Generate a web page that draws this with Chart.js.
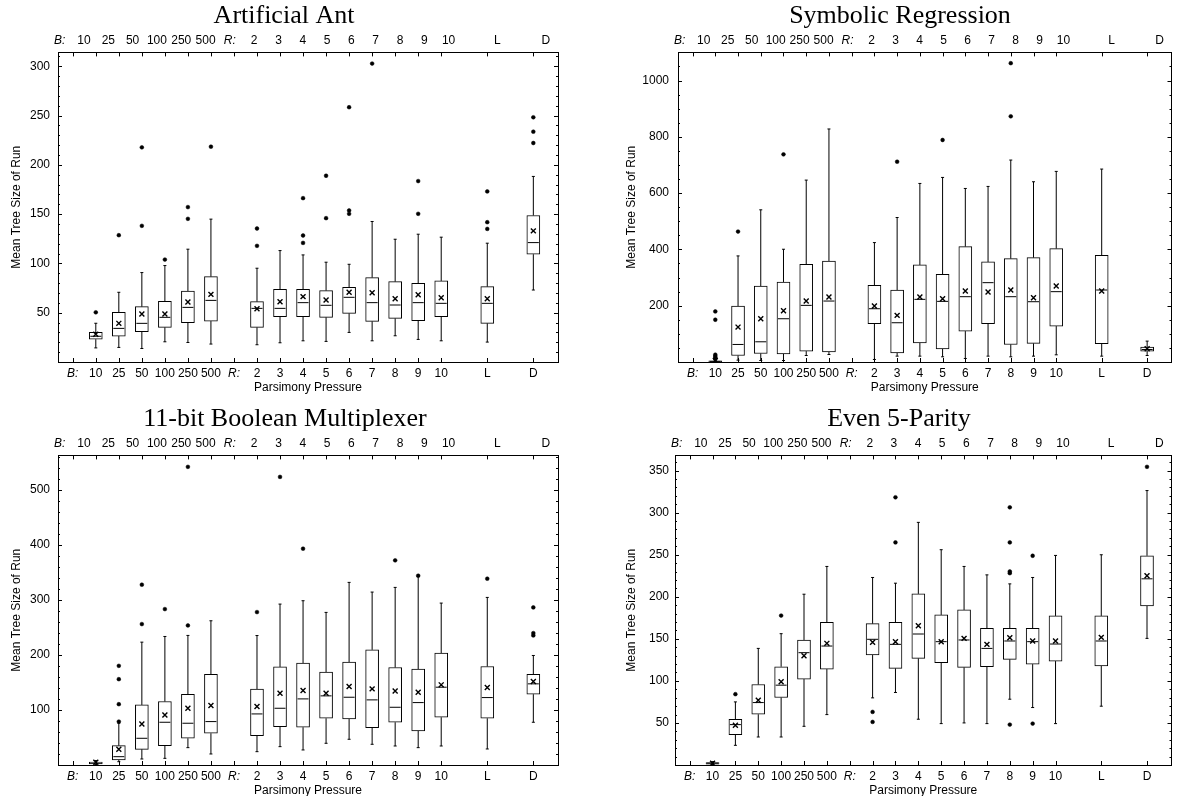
<!DOCTYPE html>
<html>
<head>
<meta charset="utf-8">
<script src="https://cdn.jsdelivr.net/npm/chart.js@4"></script>
<style>
html,body{margin:0;padding:0;background:#fff;width:1178px;height:796px;overflow:hidden;position:relative}
canvas{position:absolute}
</style>
</head>
<body>
<canvas id="c1" width="568" height="398" style="left:0px;top:0px"></canvas>
<canvas id="c2" width="556" height="398" style="left:622px;top:0px"></canvas>
<canvas id="c3" width="570" height="398" style="left:0px;top:403px"></canvas>
<canvas id="c4" width="558" height="398" style="left:620px;top:403px"></canvas>
<script>
// ---- axis slots / categories ----
const SLOTS = ['B:','10','25','50','100','250','500','R:','2','3','4','5','6','7','8','9','10','','L','','D'];
const CATEGORIES = ['10','25','50','100','250','500','2','3','4','5','6','7','8','9','10','L','D'];
const X_TITLE = 'Parsimony Pressure';
const Y_TITLE = 'Mean Tree Size of Run';

// ---- Artificial Ant ----
const antLow  = [14.3, 14.8, 13.7, 20.5, 19.8, 18.2, 17.5, 19.5, 21.5, 20.9, 30, 21.5, 26.6, 22.9, 21.5, 20.2, 73];
const antQ1   = [23.1, 26.3, 30.7, 35.1, 39.8, 41.5, 35.1, 45.9, 45.9, 45.3, 49.3, 41.2, 44.2, 41.9, 45.9, 39.2, 109.3];
const antMed  = [26.1, 34.1, 39.2, 45.3, 55.4, 62.5, 54.4, 54.4, 60.2, 57.5, 65.6, 60.2, 57.8, 60.2, 59.5, 59.5, 121.1];
const antQ3   = [30.2, 50.3, 56.1, 61.5, 72, 86.6, 61.2, 73.7, 73.7, 72.4, 75.7, 85.6, 81.5, 79.8, 82.2, 76.4, 148.6];
const antHigh = [39.3, 70.7, 90.7, 97.8, 114.4, 144.9, 95.1, 113, 108.6, 101.2, 99.1, 142.5, 124.5, 129.6, 126.6, 120.5, 188.2];
const antMean = [28.2, 39.2, 48.6, 48.6, 60.8, 68.6, 54.1, 61.2, 66.3, 62.9, 70.7, 70.3, 64.2, 68.3, 65.2, 64.2, 133];
const antOut  = [[50.4],[128.6],[138.1,217.7],[103.9],[145.2,157.1],[218.4],[117.8,135.4],[],[120.8,128.3,166.2],[145.9,188.9],[150.3,153.7,258.4],[302.7],[],[150.3,183.5],[],[135,141.8,173],[222.1,233.6,248.2]];
const antYTicks = [50,100,150,200,250,300];

// ---- Symbolic Regression ----
const srLow  = [0, 6.5, 5.3, 5.3, 23.1, 26.7, 8.9, 20.8, 20.8, 18.4, 12.5, 20.8, 18.4, 20.8, 25.5, 20.8, 23.1];
const srQ1   = [0.5, 23.1, 30.3, 29.1, 38.6, 36.2, 135.9, 32.6, 68.2, 46.9, 109.8, 135.9, 62.3, 65.9, 127.6, 64.7, 38.6];
const srMed  = [2, 62.3, 71.8, 153.7, 201.2, 216.6, 189.3, 139.5, 222.6, 215.4, 232, 281.9, 232, 214.2, 249.9, 255.8, 44.5];
const srQ3   = [4, 198.8, 270, 284.3, 347.2, 359, 272.4, 255.8, 344.8, 311.6, 410.1, 355.5, 367.4, 370.9, 403, 379.2, 52.8];
const srHigh = [7, 376.9, 540.7, 400.6, 646.3, 827.9, 424.3, 513.4, 634.4, 655.8, 616.6, 623.8, 717.5, 640.4, 677.2, 685.5, 74.2];
const srMean = [5, 124, 153.7, 182.2, 216.6, 230.9, 198.8, 165.6, 230.9, 224.9, 252.2, 248.7, 255.8, 228.5, 270, 252.2, 46.9];
const srOut  = [[11,16,21,26,150.2,179.7],[463.5],[],[737.7],[],[],[],[711.6],[],[788.8],[],[],[873,1061.8],[],[],[],[]];
const srYTicks = [200,400,600,800,1000];

// ---- 11-bit Boolean Multiplexer ----
const muxLow  = [1, 6, 10.9, 12.1, 31.5, 20, 24.2, 33.3, 27.3, 39.4, 46.7, 37.6, 34.5, 31.5, 34.5, 29.1, 77.6];
const muxQ1   = [2, 9.1, 28.5, 35.1, 48.5, 57.6, 53.3, 69.7, 68.5, 84.8, 83.6, 67.9, 77.6, 61.8, 86.7, 84.8, 128.5];
const muxMed  = [3.5, 15.1, 48.5, 77.6, 75.8, 78.8, 92.7, 103, 120, 125.5, 123, 118.2, 104.8, 113.3, 141.2, 122.4, 147.3];
const muxQ3   = [5.5, 35.1, 109, 115.2, 128.5, 164.8, 137.6, 178, 184.8, 168.5, 186.7, 209.1, 177, 173.9, 203, 178.8, 164.8];
const muxHigh = [8, 75.8, 223, 233.3, 235.2, 261.8, 235, 292.1, 298.2, 277, 331.5, 313.9, 322.4, 342.4, 293.9, 304.2, 198.8];
const muxMean = [5, 28.5, 74.5, 90.9, 103, 107.9, 106.1, 130.3, 135.2, 130.3, 142.4, 138.2, 134.5, 132.1, 145.5, 140.6, 151.5];
const muxOut  = [[],[78.8,110.4,155.8,180],[255.8,327.3],[283],[253.3,541.2],[],[277.6],[523],[392.7],[],[],[],[371.5],[343.6],[],[338.2],[235.2,239.4,286.1]];
const muxYTicks = [100,200,300,400,500];

// ---- Even 5-Parity ----
const parLow  = [0.5, 23.4, 33.3, 33.3, 46, 59.9, 79.8, 86.2, 54.4, 49.2, 50, 49.2, 78.2, 68.3, 49.2, 69.9, 150.5];
const parQ1   = [1, 36.1, 60.3, 80.2, 102.1, 114, 130.7, 114.8, 126.7, 121.5, 116, 116.8, 125.5, 119.9, 123.5, 117.9, 189.1];
const parMed  = [2, 48, 74.2, 94.9, 133.5, 141.4, 149.4, 143.4, 155.7, 146.6, 148.6, 138.6, 147.4, 146.6, 143.8, 147.4, 221.3];
const parQ3   = [3, 54.4, 95.7, 116.8, 148.6, 169.6, 168, 169.6, 203.4, 178.4, 184.3, 162.5, 162.5, 162.5, 177.2, 177.2, 248.7];
const parHigh = [4, 75, 138.6, 156.1, 203, 236, 222.9, 216.1, 288.4, 255.9, 236, 226, 215.3, 222.9, 249.1, 249.9, 326.2];
const parMean = [2, 47.2, 77, 98.9, 129.9, 144.6, 145.8, 146.6, 165.6, 146.6, 150.5, 143.4, 151.3, 147.4, 147.4, 151.7, 224.9];
const parOut  = [[],[84.2],[],[177.6],[],[],[51.2,63.1],[264.6,318.2],[],[],[],[],[48,228,230,264.6,306.3],[49.2,248.7],[],[],[354.4]];
const parYTicks = [50,100,150,200,250,300,350];

// ---- rendering ----
const SANS = 'Liberation Sans, Arial, sans-serif';
const SERIF = 'Liberation Serif, Times New Roman, serif';
Chart.defaults.color = '#000';
Chart.defaults.font.family = SANS;

const catX = SLOTS.map((s, i) => (s && !s.endsWith(':')) ? i : -1).filter(i => i >= 0);

const innerTicks = {
  id: 'innerTicks',
  afterDraw(chart, args, opts) {
    const {ctx, chartArea: a} = chart;
    const x = chart.scales.x, y = chart.scales.y;
    ctx.save();
    ctx.strokeStyle = '#000';
    ctx.lineWidth = 1;
    ctx.beginPath();
    x.ticks.forEach(t => {
      const p = Math.round(x.getPixelForValue(t.value)) + 0.5;
      ctx.moveTo(p, a.bottom); ctx.lineTo(p, a.bottom - 4);
      ctx.moveTo(p, a.top); ctx.lineTo(p, a.top + 4);
    });
    const majors = y.ticks.map(t => t.value);
    for (let k = 1; k * opts.minor < y.max; k++) {
      const v = k * opts.minor;
      const len = majors.some(m => Math.abs(m - v) < 1e-6) ? 4 : 2;
      const p = Math.round(y.getPixelForValue(v)) + 0.5;
      ctx.moveTo(a.left, p); ctx.lineTo(a.left + len, p);
      ctx.moveTo(a.right, p); ctx.lineTo(a.right - len, p);
    }
    ctx.stroke();
    ctx.restore();
  }
};

function xAxis(pos, pad, h) {
  return {
    type: 'linear', position: pos, min: -0.07, max: 20.5, bounds: 'data',
    afterBuildTicks: s => { s.ticks = SLOTS.map((t, i) => t ? i : -1).filter(i => i >= 0).map(i => ({value: i})); },
    afterFit: s => { s.height = h; },
    grid: {display: false, drawTicks: false},
    border: {display: true, color: '#000', width: 1},
    ticks: {
      autoSkip: false, maxRotation: 0, minRotation: 0, padding: pad, color: '#000',
      callback: v => SLOTS[v],
      font: ctx => ({family: SANS, size: 12, style: ((ctx.tick && SLOTS[ctx.tick.value]) || '').endsWith(':') ? 'italic' : 'normal'})
    },
    title: pos === 'bottom'
      ? {display: true, text: X_TITLE, color: '#000', font: {family: SANS, size: 12}, padding: {top: 0, bottom: 2.8}}
      : {display: false}
  };
}

function makePanel(id, title, low, q1, med, q3, high, mean, outl, yTicks, L) {
  const whisk = [];
  catX.forEach((x, i) => {
    whisk.push({x, y: low[i]}, {x, y: q1[i]}, {x, y: null}, {x, y: q3[i]}, {x, y: high[i]}, {x, y: null});
  });
  const caps = [];
  catX.forEach((x, i) => { caps.push({x, y: low[i]}, {x, y: high[i]}); });
  const outPts = [];
  catX.forEach((x, i) => { outl[i].forEach(v => outPts.push({x, y: v})); });

  new Chart(document.getElementById(id), {
    type: 'scatter',
    data: {
      datasets: [
        {type: 'scatter', data: outPts, pointStyle: 'circle', pointRadius: 1.9, pointBackgroundColor: '#000', pointBorderColor: '#000', pointBorderWidth: 0.5},
        {type: 'scatter', data: catX.map((x, i) => ({x, y: mean[i]})), pointStyle: 'crossRot', pointRadius: 3.5, pointBorderColor: '#000', pointBorderWidth: 1.4},
        {type: 'scatter', data: catX.map((x, i) => ({x, y: med[i]})), pointStyle: 'line', pointRadius: 5.5, pointBorderColor: '#000', pointBorderWidth: 1},
        {type: 'scatter', data: caps, pointStyle: 'line', pointRadius: 1.5, pointBorderColor: '#000', pointBorderWidth: 1},
        {type: 'bar', data: catX.map((x, i) => ({x, y: [q1[i], q3[i]]})), backgroundColor: '#fff', borderColor: '#000', borderWidth: 1, borderSkipped: false, barThickness: 13, grouped: false},
        {type: 'line', data: whisk, borderColor: '#000', borderWidth: 1, pointRadius: 0, spanGaps: false, fill: false, tension: 0}
      ]
    },
    options: {
      responsive: false, animation: false, events: [], devicePixelRatio: 1,
      layout: {padding: 0},
      plugins: {
        legend: {display: false}, tooltip: {enabled: false},
        title: {display: true, text: title, color: '#000', font: {family: SERIF, size: 26, weight: 'normal'}, padding: {top: 0.5, bottom: 0}},
        innerTicks: {minor: L.minor}
      },
      scales: {
        x: xAxis('bottom', 4, 36),
        xTop: xAxis('top', 5, 20.7),
        y: {
          type: 'linear', position: 'left', min: 0, max: L.yMax, bounds: 'data',
          afterBuildTicks: s => { s.ticks = yTicks.map(v => ({value: v})); },
          afterFit: s => { s.width = L.yWidth; },
          grid: {display: false, drawTicks: false},
          border: {display: true, color: '#000', width: 1},
          ticks: {padding: L.yPad, color: '#000', font: {family: SANS, size: 12}, callback: v => String(v)},
          title: {display: true, text: Y_TITLE, color: '#000', font: {family: SANS, size: 12}, padding: {top: L.yTitlePad, bottom: 0}}
        },
        yRight: {
          type: 'linear', position: 'right', min: 0, max: L.yMax, bounds: 'data',
          afterFit: s => { s.width = L.y2Width; },
          grid: {display: false, drawTicks: false},
          border: {display: true, color: '#000', width: 1},
          ticks: {display: false}
        }
      }
    },
    plugins: [innerTicks]
  });
}

makePanel('c1', 'Artificial Ant', antLow, antQ1, antMed, antQ3, antHigh, antMean, antOut, antYTicks,
  {yMax: 314, minor: 10, yWidth: 58, y2Width: 10, yPad: 8, yTitlePad: 9.5});
makePanel('c2', 'Symbolic Regression', srLow, srQ1, srMed, srQ3, srHigh, srMean, srOut, srYTicks,
  {yMax: 1100, minor: 50, yWidth: 56, y2Width: 1, yPad: 9, yTitlePad: 2.8});
makePanel('c3', '11-bit Boolean Multiplexer', muxLow, muxQ1, muxMed, muxQ3, muxHigh, muxMean, muxOut, muxYTicks,
  {yMax: 562, minor: 20, yWidth: 58, y2Width: 12, yPad: 8, yTitlePad: 9.5});
makePanel('c4', 'Even 5-Parity', parLow, parQ1, parMed, parQ3, parHigh, parMean, parOut, parYTicks,
  {yMax: 368, minor: 10, yWidth: 55, y2Width: 3, yPad: 6, yTitlePad: 4.8});
</script>
</body>
</html>
